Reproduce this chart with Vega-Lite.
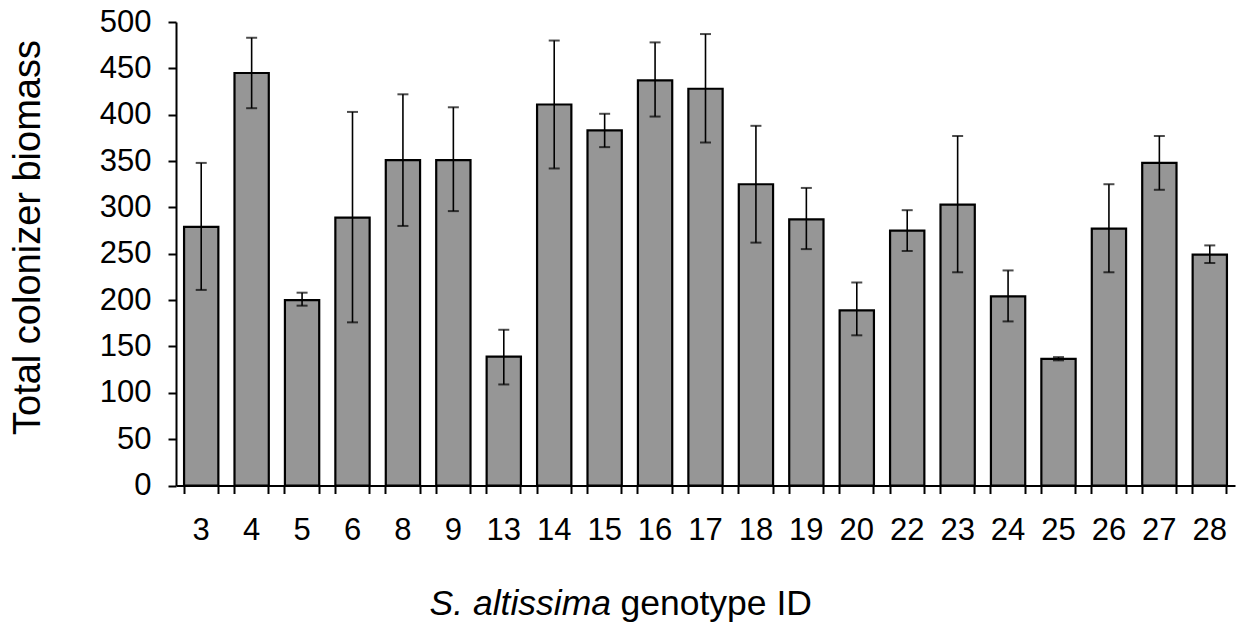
{
  "$schema": "https://vega.github.io/schema/vega-lite/v6.json",
  "width": 1059,
  "height": 463.5,
  "autosize": {"type": "none"},
  "padding": {"left": 176, "top": 22, "right": 9, "bottom": 144.5},
  "background": "white",
  "config": {
    "view": {"stroke": null},
    "font": "Liberation Sans"
  },
  "data": {
    "values": [
      {"g": "3", "mean": 279, "lo": 211, "hi": 348},
      {"g": "4", "mean": 445, "lo": 407, "hi": 483},
      {"g": "5", "mean": 200, "lo": 194, "hi": 208},
      {"g": "6", "mean": 289, "lo": 176, "hi": 403},
      {"g": "8", "mean": 351, "lo": 280, "hi": 422},
      {"g": "9", "mean": 351, "lo": 296, "hi": 408},
      {"g": "13", "mean": 139, "lo": 109, "hi": 168},
      {"g": "14", "mean": 411, "lo": 342, "hi": 480},
      {"g": "15", "mean": 383, "lo": 365, "hi": 401},
      {"g": "16", "mean": 437, "lo": 398, "hi": 478},
      {"g": "17", "mean": 428, "lo": 370, "hi": 487},
      {"g": "18", "mean": 325, "lo": 262, "hi": 388},
      {"g": "19", "mean": 287, "lo": 255, "hi": 321},
      {"g": "20", "mean": 189, "lo": 162, "hi": 219},
      {"g": "22", "mean": 275, "lo": 253, "hi": 297},
      {"g": "23", "mean": 303, "lo": 230, "hi": 377},
      {"g": "24", "mean": 204, "lo": 177, "hi": 232},
      {"g": "25", "mean": 136.5, "lo": 135, "hi": 138.5},
      {"g": "26", "mean": 277, "lo": 230, "hi": 325},
      {"g": "27", "mean": 348, "lo": 319, "hi": 377},
      {"g": "28", "mean": 249, "lo": 240, "hi": 259}
    ]
  },
  "resolve": {"axis": {"x": "independent", "y": "independent"}},
  "layer": [
    {
      "mark": {"type": "bar", "fill": "#969696", "stroke": "#000000", "strokeWidth": 2.2},
      "encoding": {
        "x": {
          "field": "g", "type": "nominal", "sort": null,
          "scale": {"paddingInner": 0.32, "paddingOuter": 0.16},
          "axis": {
            "orient": "bottom",
            "bandPosition": 0,
            "labelAngle": 0,
            "labelFontSize": 31,
            "labelColor": "#000000",
            "labelPadding": 22,
            "labelBaseline": "top",
            "domainColor": "#000000",
            "domainWidth": 2,
            "tickColor": "#000000",
            "tickWidth": 2,
            "tickSize": 8,
            "title": "S. altissima",
            "titleFontSize": 35.5,
            "titleFontStyle": "italic",
            "titleFontWeight": "normal",
            "titleColor": "#000000",
            "titleAlign": "left",
            "titleAnchor": null,
            "titleX": 253,
            "titleY": 128.5,
            "titleBaseline": "alphabetic"
          }
        },
        "y": {
          "field": "mean", "type": "quantitative",
          "scale": {"domain": [0, 500], "nice": false},
          "axis": {
            "values": [0, 50, 100, 150, 200, 250, 300, 350, 400, 450, 500],
            "grid": false,
            "labelFontSize": 31,
            "labelColor": "#000000",
            "labelPadding": 17,
            "domainColor": "#000000",
            "domainWidth": 2,
            "tickColor": "#000000",
            "tickWidth": 2,
            "tickSize": 8,
            "title": "Total colonizer biomass",
            "titleFontSize": 38,
            "titleFontWeight": "normal",
            "titleColor": "#000000",
            "titleAngle": -90,
            "titleAlign": "center",
            "titleAnchor": null,
            "titleX": -137,
            "titleY": 215,
            "titleBaseline": "alphabetic"
          }
        }
      }
    },
    {
      "mark": {"type": "rule", "color": "#000000", "strokeWidth": 1.6},
      "encoding": {
        "x": {
          "field": "g", "type": "nominal", "sort": null,
          "axis": {
            "orient": "bottom",
            "bandPosition": 1,
            "labels": false,
            "domain": false,
            "ticks": true,
            "tickColor": "#000000",
            "tickWidth": 2,
            "tickSize": 8,
            "title": "genotype ID",
            "titleFontSize": 35.5,
            "titleFontWeight": "normal",
            "titleColor": "#000000",
            "titleAlign": "left",
            "titleAnchor": null,
            "titleX": 444,
            "titleY": 128.5,
            "titleBaseline": "alphabetic"
          }
        },
        "y": {"field": "lo", "type": "quantitative", "axis": null},
        "y2": {"field": "hi"}
      }
    },
    {
      "mark": {"type": "tick", "color": "#000000", "thickness": 2, "size": 11},
      "encoding": {
        "x": {"field": "g", "type": "nominal", "sort": null, "axis": null},
        "y": {"field": "lo", "type": "quantitative", "axis": null}
      }
    },
    {
      "mark": {"type": "tick", "color": "#000000", "thickness": 2, "size": 11},
      "encoding": {
        "x": {"field": "g", "type": "nominal", "sort": null, "axis": null},
        "y": {"field": "hi", "type": "quantitative", "axis": null}
      }
    }
  ]
}
